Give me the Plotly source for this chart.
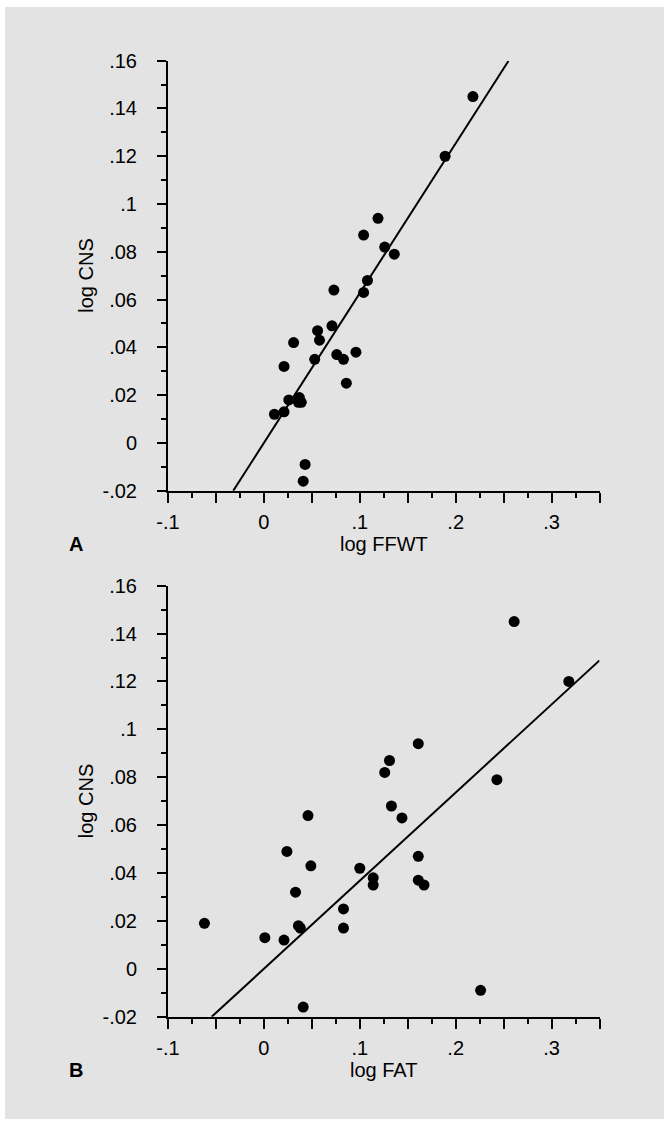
import numpy as np
import plotly.graph_objects as go

# ---------------- data ----------------
ffwt = [0.011, 0.021, 0.021, 0.026, 0.031, 0.037, 0.039, 0.036, 0.043, 0.041,
        0.053, 0.056, 0.058, 0.071, 0.073, 0.076, 0.083, 0.086, 0.096, 0.104,
        0.104, 0.108, 0.119, 0.126, 0.136, 0.189, 0.218]
cns_a = [0.012, 0.013, 0.032, 0.018, 0.042, 0.019, 0.017, 0.017, -0.009, -0.016,
         0.035, 0.047, 0.043, 0.049, 0.064, 0.037, 0.035, 0.025, 0.038, 0.063,
         0.087, 0.068, 0.094, 0.082, 0.079, 0.120, 0.145]

fat = [-0.062, 0.001, 0.021, 0.024, 0.033, 0.036, 0.038, 0.041, 0.046, 0.049,
       0.083, 0.083, 0.100, 0.114, 0.114, 0.126, 0.131, 0.133, 0.144, 0.161,
       0.161, 0.161, 0.167, 0.226, 0.243, 0.261, 0.318]
cns_b = [0.019, 0.013, 0.012, 0.049, 0.032, 0.018, 0.017, -0.016, 0.064, 0.043,
         0.025, 0.017, 0.042, 0.038, 0.035, 0.082, 0.087, 0.068, 0.063, 0.094,
         0.047, 0.037, 0.035, -0.009, 0.079, 0.145, 0.120]

fit_a_slope, fit_a_intercept, fit_a_xrange = 0.627, 0.0, [-0.032, 0.255]
fit_b_slope, fit_b_intercept, fit_b_xrange = 0.368, 0.0, [-0.0545, 0.35]

x_tickvals = [-0.1, -0.05, 0.0, 0.05, 0.1, 0.15, 0.2, 0.25, 0.3, 0.35]
x_ticktext = ["-.1", "", "0", "", ".1", "", ".2", "", ".3", ""]
y_tickvals = [-0.02, 0.0, 0.02, 0.04, 0.06, 0.08, 0.1, 0.12, 0.14, 0.16]
y_ticktext = ["-.02", "0", ".02", ".04", ".06", ".08", ".1", ".12", ".14", ".16"]

panel_labels = ["A", "B"]
x_titles = ["log FFWT", "log FAT"]
y_title = "log CNS"

# ---------------- figure ----------------
W, H = 664, 1126
BG = "#e3e3e3"
FONT = "Liberation Sans, Arial, Helvetica, sans-serif"

fig = go.Figure()

fig.add_trace(go.Scatter(x=ffwt, y=cns_a, mode="markers",
                         marker=dict(color="black", size=11, line=dict(width=0)),
                         xaxis="x", yaxis="y", showlegend=False))
xa = np.array(fit_a_xrange)
fig.add_trace(go.Scatter(x=xa, y=fit_a_slope * xa + fit_a_intercept, mode="lines",
                         line=dict(color="black", width=2),
                         xaxis="x", yaxis="y", showlegend=False))

fig.add_trace(go.Scatter(x=fat, y=cns_b, mode="markers",
                         marker=dict(color="black", size=11, line=dict(width=0)),
                         xaxis="x2", yaxis="y2", showlegend=False))
xb = np.array(fit_b_xrange)
fig.add_trace(go.Scatter(x=xb, y=fit_b_slope * xb + fit_b_intercept, mode="lines",
                         line=dict(color="black", width=2),
                         xaxis="x2", yaxis="y2", showlegend=False))

x_dom = [168 / W, 599.5 / W]
yA_dom = [1 - 490.7 / H, 1 - 60.7 / H]
yB_dom = [1 - 1016.7 / H, 1 - 585.7 / H]

common_x = dict(range=[-0.1, 0.35], tickmode="array", tickvals=x_tickvals,
                ticktext=x_ticktext, showline=True, linecolor="black", linewidth=2,
                ticks="outside", ticklen=10, tickwidth=2, tickcolor="black",
                showgrid=False, zeroline=False, fixedrange=True, automargin=False,
                tickfont=dict(family=FONT, size=20, color="black"),
                ticklabelstandoff=2,
                minor=dict(ticks="outside", ticklen=5, tickwidth=2, tickcolor="black",
                           tick0=-0.1, dtick=0.025, showgrid=False))
common_y = dict(range=[-0.02, 0.16], tickmode="array", tickvals=y_tickvals,
                ticktext=y_ticktext, showline=True, linecolor="black", linewidth=2,
                ticks="outside", ticklen=9, tickwidth=2, tickcolor="black",
                showgrid=False, zeroline=False, fixedrange=True, automargin=False,
                tickfont=dict(family=FONT, size=20, color="black"),
                ticklabelstandoff=16,
                minor=dict(ticks="outside", ticklen=5, tickwidth=2, tickcolor="black",
                           tick0=-0.02, dtick=0.01, showgrid=False))

fig.update_layout(
    template="none",
    width=W, height=H, autosize=False,
    margin=dict(l=0, r=0, t=0, b=0, pad=0, autoexpand=False),
    paper_bgcolor=BG, plot_bgcolor=BG,
    font=dict(family=FONT, size=20, color="black"),
    xaxis=dict(domain=x_dom, anchor="y", **common_x),
    yaxis=dict(domain=yA_dom, anchor="x", **common_y),
    xaxis2=dict(domain=x_dom, anchor="y2", **common_x),
    yaxis2=dict(domain=yB_dom, anchor="x2", **common_y),
    showlegend=False,
)

# white border strips
fig.add_shape(type="rect", xref="paper", yref="paper", x0=0, x1=5 / W, y0=0, y1=1,
              fillcolor="white", line=dict(width=0), layer="below")
fig.add_shape(type="rect", xref="paper", yref="paper", x0=0, x1=1, y0=1 - 7 / H, y1=1,
              fillcolor="white", line=dict(width=0), layer="below")
fig.add_shape(type="rect", xref="paper", yref="paper", x0=0, x1=1, y0=0, y1=7 / H,
              fillcolor="white", line=dict(width=0), layer="below")

xc = (x_dom[0] + x_dom[1]) / 2
# axis titles and panel labels
for i, (ybot, ydom) in enumerate([(490.7, yA_dom), (1016.7, yB_dom)]):
    fig.add_annotation(text=x_titles[i], xref="paper", yref="paper",
                       x=xc, y=1 - (ybot + 53) / H, showarrow=False,
                       xanchor="center", yanchor="middle",
                       font=dict(family=FONT, size=20, color="black"))
    fig.add_annotation(text="<b>" + panel_labels[i] + "</b>", xref="paper", yref="paper",
                       x=76 / W, y=1 - (ybot + 53) / H, showarrow=False,
                       xanchor="center", yanchor="middle",
                       font=dict(family=FONT, size=20, color="black"))
    fig.add_annotation(text=y_title, xref="paper", yref="paper",
                       x=86 / W, y=(ydom[0] + ydom[1]) / 2, showarrow=False,
                       textangle=-90, xanchor="center", yanchor="middle",
                       font=dict(family=FONT, size=20, color="black"))

fig.write_html("out.html", config={"displayModeBar": False, "staticPlot": True},
               post_script="document.body.style.margin='0';"
                           "document.body.style.overflow='hidden';")
